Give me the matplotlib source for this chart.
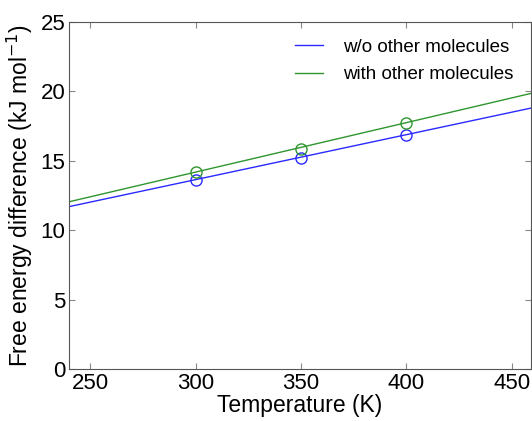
import matplotlib
matplotlib.use("Agg")
import matplotlib.pyplot as plt

plt.rcParams['font.family'] = ['Liberation Sans', 'DejaVu Sans']

temps = [300, 350, 400]
wo_vals = [13.6, 15.18, 16.86]
with_vals = [14.19, 15.83, 17.75]
fit_x = [240, 460]
wo_fit = [11.7, 18.82]
with_fit = [12.05, 19.88]

blue = '#2a2aff'
green = '#2f962f'

fig = plt.figure(figsize=(5.32, 4.21), dpi=100)
ax = fig.add_axes([0.1305, 0.1235, 0.867, 0.8245])

ax.plot(fit_x, wo_fit, color=blue, lw=1.0, label='w/o other molecules')
ax.plot(fit_x, with_fit, color=green, lw=1.0, label='with other molecules')
ax.plot(temps, wo_vals, 'o', mfc='none', mec=blue, ms=8, mew=1.0)
ax.plot(temps, with_vals, 'o', mfc='none', mec=green, ms=8, mew=1.0)

ax.set_xlim(240, 459)
ax.set_ylim(0, 25)
ax.set_xticks([250, 300, 350, 400, 450])
ax.set_yticks([0, 5, 10, 15, 20, 25])
ax.tick_params(direction='in', top=True, right=True, labelsize=16, color='#888888', length=4, pad=3)
for s in ax.spines.values():
    s.set_color('#555555')
ax.set_xlabel('Temperature (K)', fontsize=16.5, labelpad=0)
ax.set_ylabel('Free energy difference (kJ mol$^{-1}$)', fontsize=16.5, labelpad=4)
ax.legend(loc='upper right', frameon=False, fontsize=13.5, handlelength=1.5,
          handletextpad=1.1, labelspacing=0.55, borderaxespad=0.5)

fig.savefig('out.png', dpi=100)
